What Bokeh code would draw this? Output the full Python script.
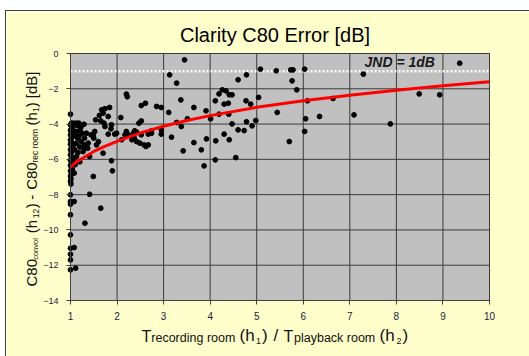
import math
from bokeh.plotting import figure
from bokeh.models import Range1d, Label, FixedTicker
from bokeh.embed import file_html
from bokeh.resources import INLINE

# ---------------- data ----------------
ratio_x = [
    1.00, 1.02, 1.00, 1.03, 1.00, 1.02, 1.00, 1.03, 1.00, 1.02, 1.00, 1.03, 1.00, 1.02,
    1.00, 1.03, 1.00, 1.02, 1.00, 1.03, 1.00, 1.02, 1.00, 1.01, 1.00, 1.01, 1.08, 1.00,
    1.00, 1.08, 1.00, 1.00, 1.00, 1.00, 1.08, 1.00, 1.00, 1.00, 1.11,
    1.07, 1.09, 1.13, 1.18, 1.29, 1.04, 1.15, 1.22, 1.06, 1.13, 1.20, 1.25, 1.34, 1.44,
    1.10, 1.15, 1.18, 1.23, 1.30, 1.12, 1.30, 1.31, 1.37, 1.05, 1.20, 1.27, 1.09, 1.16,
    1.13, 1.06, 1.20, 1.10, 1.04, 1.38, 1.41, 1.49, 1.52, 1.50, 1.49, 1.41, 1.65, 1.31,
    1.54, 1.62, 1.67, 1.74, 1.84, 1.70, 1.81, 1.65, 1.72, 1.74, 1.88, 1.95, 1.87, 2.08,
    1.81, 1.99, 2.10, 1.70, 1.56, 1.60, 1.88, 1.90,
    2.20, 2.22, 2.52, 2.61, 2.85, 2.95, 2.52, 2.47, 2.17, 2.24, 2.20, 2.35, 2.42, 2.38,
    2.52, 2.67, 2.74, 2.74, 2.32, 2.37, 2.42, 2.49, 2.58, 2.62, 2.67, 2.95, 2.95,
    3.45, 3.13, 3.28, 3.11, 3.37, 3.65, 3.51, 3.28, 3.17, 3.42, 3.65, 3.81, 3.87, 3.92,
    3.91, 3.38, 4.01, 4.11, 4.11, 4.12, 4.19, 4.30, 4.39, 4.34, 4.41, 4.47, 4.26, 4.19,
    4.40, 4.30, 4.41, 4.47, 4.55, 4.60, 4.78, 4.77, 4.87, 4.60, 4.73, 4.78, 4.90, 4.98,
    5.04, 5.08, 5.42, 5.44, 5.70, 5.73, 5.78, 5.76, 5.86, 6.03, 6.05, 6.03, 6.35, 6.09,
    6.64, 7.09, 7.29, 7.87, 8.49, 8.93, 9.36,
]
c80_err = [
    -3.44, -3.95, -4.05, -4.20, -4.35, -4.50, -4.62, -4.75, -4.90, -5.02, -5.15, -5.30, -5.45, -5.60,
    -5.75, -5.90, -6.05, -6.20, -6.35, -6.50, -6.65, -6.80, -6.95, -7.10, -7.25, -7.40, -6.78, -8.01,
    -8.39, -8.39, -8.54, -9.14, -10.28, -11.04, -11.00, -11.38, -11.70, -12.26, -12.17,
    -3.95, -4.04, -3.95, -3.95, -4.01, -4.25, -4.08, -4.20, -4.52, -4.42, -4.38, -4.52, -4.52, -4.61,
    -4.65, -4.80, -4.70, -4.99, -4.80, -5.10, -5.18, -5.35, -5.37, -5.25, -5.30, -5.56, -5.46, -5.62,
    -5.84, -6.03, -6.14, -6.30, -6.60, -5.08, -5.84, -4.61, -4.42, -4.80, -6.97, -7.98, -8.77, -9.62,
    -3.76, -3.51, -3.19, -3.13, -3.06, -3.38, -3.57, -3.82, -3.95, -4.14, -4.04, -4.57, -4.27, -3.63,
    -4.57, -4.52, -4.89, -5.65, -5.18, -5.00, -6.08, -6.65,
    -2.30, -2.45, -2.95, -2.82, -3.00, -3.06, -3.82, -3.95, -4.61, -4.61, -4.42, -4.52, -4.46, -4.38,
    -4.61, -4.57, -4.52, -4.38, -4.89, -4.80, -4.99, -5.08, -5.18, -5.27, -5.18, -4.33, -4.57,
    -0.36, -1.21, -1.68, -3.34, -2.63, -3.06, -3.70, -3.91, -4.74, -5.52, -5.05, -5.46, -6.37, -4.84,
    -3.25, -4.14, -3.70, -2.68, -6.03, -4.95, -2.29, -2.87, -2.82, -2.12, -2.34, -2.34, -2.06, -3.44,
    -3.44, -4.57, -4.89, -3.99, -5.90, -1.49, -1.21, -2.68, -2.87, -4.33, -4.37, -3.87, -4.10, -3.80,
    -2.49, -0.89, -0.98, -3.34, -4.99, -0.93, -0.93, -1.55, -2.06, -0.89, -3.70, -4.42, -3.57, -2.68,
    -2.55, -3.48, -1.17, -3.99, -2.29, -2.34, -0.55,
]
trend_x = [1, 1.1, 1.25, 1.5, 1.75, 2, 2.5, 3, 3.5, 4, 5, 6, 7, 8, 9, 10]
trend_y = [-6.45, -6.2, -5.95, -5.55, -5.25, -4.98, -4.5, -4.12, -3.8, -3.52,
           -3.05, -2.68, -2.36, -2.08, -1.83, -1.6]
jnd_level = -1.0
x_ticks = [1, 2, 3, 4, 5, 6, 7, 8, 9, 10]
y_ticks = [0, -2, -4, -6, -8, -10, -12, -14]

# ---------------- layout constants (page pixels) ----------------
BEIGE = "#FFFFCC"
GRAY = "#C0C0C0"
FONT = "Liberation Sans"
OFF_X, OFF_Y = 5, 10            # figure offset in the page
FIG_W, FIG_H = 529 - OFF_X, 356 - OFF_Y
PA_L, PA_R, PA_T, PA_B = 69, 488, 52, 299   # plot-area box in page pixels
XMIN, XMAX = x_ticks[0], x_ticks[-1]
YMIN, YMAX = y_ticks[-1], y_ticks[0]
SX = (PA_R - PA_L) / (XMAX - XMIN)
SY = (PA_B - PA_T) / (YMAX - YMIN)
BASE_K = 0.465   # label anchor correction (fraction of font size)


def px_to_x(px):
    return XMIN + (px - PA_L) / SX


def py_to_y(py):
    return YMAX - (py - PA_T) / SY


def fsz(fs):
    return float(fs.replace("px", ""))


p = figure(width=FIG_W, height=FIG_H, margin=(OFF_Y, 0, 0, OFF_X),
           x_range=Range1d(px_to_x(OFF_X), px_to_x(OFF_X + FIG_W)),
           y_range=Range1d(py_to_y(OFF_Y + FIG_H), py_to_y(OFF_Y)),
           output_backend="svg", toolbar_location=None,
           min_border=0, min_border_left=0, min_border_right=0,
           min_border_top=0, min_border_bottom=0,
           background_fill_color=BEIGE, border_fill_color=BEIGE,
           outline_line_color=None)
p.styles = {"border-top": "1px solid #404040", "border-left": "1px solid #404040"}
p.grid.visible = False

# axes pinned to the plot-area edges
p.xaxis.fixed_location = YMIN
p.yaxis.fixed_location = XMIN
p.xaxis.bounds = (XMIN, XMAX)
p.yaxis.bounds = (YMIN, YMAX)
for ax, ticks, fs, so in ((p.xaxis, x_ticks, "10px", 7), (p.yaxis, y_ticks, "9px", 8)):
    ax.ticker = FixedTicker(ticks=ticks)
    ax.major_tick_in = 0
    ax.major_tick_out = 4
    ax.minor_tick_line_color = None
    ax.axis_line_color = "#404040"
    ax.major_tick_line_color = "#404040"
    ax.major_label_text_font = FONT
    ax.major_label_text_font_size = fs
    ax.major_label_text_color = "#1c1c3c"
    ax.major_label_standoff = so

# gray plot area and grid lines
p.quad(left=[XMIN], right=[XMAX], bottom=[YMIN], top=[YMAX],
       fill_color=GRAY, line_color=None, level="underlay")
p.segment(x0=x_ticks, y0=[YMIN] * len(x_ticks), x1=x_ticks, y1=[YMAX] * len(x_ticks),
          line_color="#3a3a3a", line_width=1, level="underlay")
p.segment(x0=[XMIN] * len(y_ticks), y0=y_ticks, x1=[XMAX] * len(y_ticks), y1=y_ticks,
          line_color="#3a3a3a", line_width=1, level="underlay")

# JND dotted line (under the points)
p.line([XMIN, XMAX], [jnd_level, jnd_level], line_color="white",
       line_width=2.5, line_dash="2 2")

p.scatter(ratio_x, c80_err, size=4.8, color="black", marker="circle")
p.line(trend_x, trend_y, line_color="#FF0000", line_width=3)


def hlabel(txt, sx, by, fs, align="left", **kw):
    p.add_layout(Label(x=px_to_x(sx), y=py_to_y(by - BASE_K * fsz(fs)), text=txt,
                       text_align=align, text_baseline="alphabetic", text_font=FONT,
                       text_font_size=fs, **kw))


# title
hlabel("Clarity C80 Error [dB]", 273.5, 42.7, "20px", align="center", text_color="black")

# JND label
hlabel("JND = 1dB", 363, 66.7, "14px", text_font_style="bold italic", text_color="#1a1a1a")

# x-axis label pieces: (text, start px, size, baseline py)
x_parts = [
    ("T", 140, "16px", 342), ("recording room", 149.8, "12.5px", 342),
    ("(h", 238, "17px", 342), ("1", 254.5, "9px", 343.5), (")", 260.5, "17px", 342),
    ("/", 272, "17px", 342),
    ("T", 282, "16px", 342), ("playback room", 292.5, "12.5px", 342),
    ("(h", 378, "17px", 342), ("2", 395, "9px", 343.5), (")", 401, "17px", 342),
]
for txt, sx, fs, by in x_parts:
    hlabel(txt, sx, by, fs, text_color="#111111")

# y-axis label pieces (rotated): (text, start py (bottom), size, baseline px)
y_parts = [
    ("C80", 285, "15px", 37), ("convol", 258.3, "7.5px", 37.5),
    ("(h", 231.7, "15px", 37), ("12", 216.7, "8.5px", 38.5), (")", 206.7, "15px", 37),
    ("-", 198.3, "15px", 37),
    ("C80", 188.3, "15px", 37), ("rec room", 161, "8.5px", 37.5),
    ("(h", 124, "15px", 37), ("1", 110.5, "8.5px", 38.5), (")", 105.8, "15px", 37),
    ("[dB]", 96.7, "15px", 37),
]
for txt, sy, fs, bx in y_parts:
    p.add_layout(Label(x=px_to_x(bx - BASE_K * fsz(fs)), y=py_to_y(sy), text=txt,
                       angle=math.pi / 2, text_align="left", text_baseline="alphabetic",
                       text_font=FONT, text_font_size=fs, text_color="#111111"))

open("out.html", "w").write(file_html(p, INLINE))
